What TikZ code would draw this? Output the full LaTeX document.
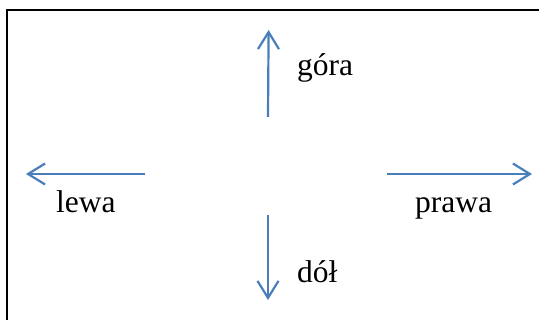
\documentclass[tikz,border=0pt]{standalone}
\usepackage{fontspec}
\setmainfont{Liberation Serif}
\usetikzlibrary{arrows.meta}
\definecolor{arrowblue}{HTML}{4A7EBB}
\tikzset{
  dirarrow/.style={draw=arrowblue, line width=2.2pt, -{Straight Barb[length=17pt,width=21pt]}},
  lbl/.style={anchor=base west, inner sep=0pt, font=\fontsize{31.5}{37}\selectfont},
  frame/.style={draw=black, line width=2.6pt}
}
\begin{document}
\begin{tikzpicture}[x=1pt,y=-1pt]
\useasboundingbox (0,0) rectangle (539,320);
\clip (0,0) rectangle (539,320);
\fill[white] (0,0) rectangle (539,320);
% frame (only top and left edges visible)
\coordinate (fbl) at (7,340);
\coordinate (ftl) at (7,10);
\coordinate (ftr) at (560,10);
\draw[frame] (fbl) -- (ftl) -- (ftr);
% arrow end points
\coordinate (upS) at (268,117);
\coordinate (upE) at (268.6,30);
\coordinate (dnS) at (268,215);
\coordinate (dnE) at (268,300);
\coordinate (ltS) at (145,174);
\coordinate (ltE) at (26,174);
\coordinate (rtS) at (387,174);
\coordinate (rtE) at (532,174);
\draw[dirarrow] (upS) -- (upE);
\draw[dirarrow] (dnS) -- (dnE);
\draw[dirarrow] (ltS) -- (ltE);
\draw[dirarrow] (rtS) -- (rtE);
% labels
\node[lbl] (gora) at (297,76) {góra};
\node[lbl] (lewa) at (56,213) {lewa};
\node[lbl] (prawa) at (415,213) {prawa};
\node[lbl] (dol) at (297,283) {dół};
\end{tikzpicture}
\end{document}
